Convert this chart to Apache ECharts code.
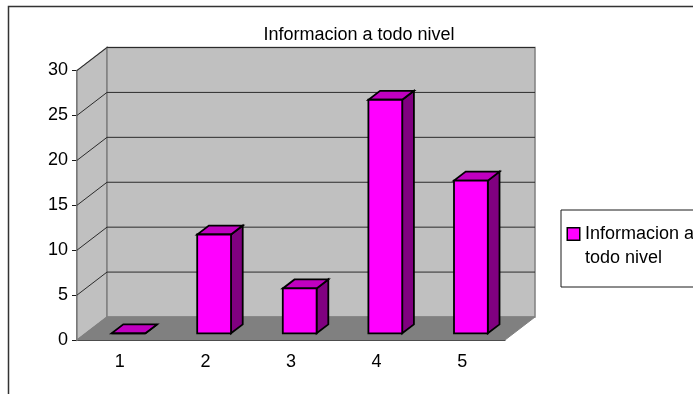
<!DOCTYPE html>
<html>
<head>
<meta charset="utf-8">
<style>html,body{margin:0;padding:0;background:#fff}#chart{width:693px;height:394px}</style>
<script src="https://cdn.jsdelivr.net/npm/echarts@6/dist/echarts.min.js"></script>
</head>
<body>
<div id="chart"></div>
<script>
const titleText = 'Informacion a todo nivel';
const categories = ['1', '2', '3', '4', '5'];
const values = [0, 11, 5, 26, 17];
const yTicks = [5, 10, 15, 20, 25, 30];

// Oblique projection of the 3D box: shift of the back plane relative to the front.
const DEPTH_X = 30, DEPTH_Y = -23;
const BAR_NEAR = 0.29, BAR_FAR = 0.68, BAR_WIDTH = 0.395;
const FONT = '"Liberation Sans", Arial, sans-serif';

const chart = echarts.init(document.getElementById('chart'), null, { renderer: 'canvas' });

const poly = (points, fill, stroke, lineWidth) => ({
  type: 'polygon',
  shape: { points },
  style: { fill, stroke, lineWidth }
});

function renderWalls(params, api) {
  const g = params.coordSys;
  const l = g.x, r = g.x + g.width, t = g.y, b = g.y + g.height;
  const dx = DEPTH_X, dy = DEPTH_Y;
  return {
    type: 'group',
    children: [
      poly([[l, b], [l + dx, b + dy], [l + dx, t + dy], [l, t]], '#c0c0c0', '#808080', 1.5),
      poly([[l + dx, t + dy], [r + dx, t + dy], [r + dx, b + dy], [l + dx, b + dy]], '#c0c0c0', '#808080', 1.5),
      poly([[l, b], [r, b], [r + dx, b + dy], [l + dx, b + dy]], '#808080', '#808080', 1)
    ]
  };
}

function renderGridLine(params, api) {
  const g = params.coordSys;
  const y = api.coord([0, api.value(0)])[1];
  const l = g.x, r = g.x + g.width;
  return {
    type: 'polyline',
    shape: { points: [[l, y], [l + DEPTH_X, y + DEPTH_Y], [r + DEPTH_X, y + DEPTH_Y]] },
    style: { fill: 'none', stroke: '#2b2b2b', lineWidth: 1 }
  };
}

function renderBar(params, api) {
  const top = api.coord([api.value(0), api.value(1)]);
  const base = api.coord([api.value(0), 0]);
  const band = api.size([1, 0])[0];
  const w = band * BAR_WIDTH;
  const fx = BAR_NEAR * DEPTH_X, fy = BAR_NEAR * DEPTH_Y;
  const bx = (BAR_FAR - BAR_NEAR) * DEPTH_X, by = (BAR_FAR - BAR_NEAR) * DEPTH_Y;
  const x0 = base[0] - w / 2 + fx, x1 = x0 + w;
  const yt = top[1] + fy, yb = base[1] + fy;
  const edge = '#000';
  return {
    type: 'group',
    children: [
      poly([[x1, yb], [x1 + bx, yb + by], [x1 + bx, yt + by], [x1, yt]], '#800080', edge, 1.8),
      poly([[x0, yt], [x1, yt], [x1 + bx, yt + by], [x0 + bx, yt + by]], '#c000c0', edge, 1.8),
      poly([[x0, yb], [x1, yb], [x1, yt], [x0, yt]], '#ff00ff', edge, 1.8)
    ]
  };
}

chart.setOption({
  animation: false,
  backgroundColor: '#fff',
  title: {
    text: titleText,
    left: 354,
    top: 21,
    textAlign: 'center',
    textStyle: { fontFamily: FONT, fontSize: 18, fontWeight: 'normal', color: '#000' }
  },
  grid: { left: 77, right: 188, top: 70.5, bottom: 54 },
  xAxis: {
    type: 'category',
    data: categories,
    boundaryGap: true,
    axisLine: { lineStyle: { color: '#1a1a1a', width: 1 } },
    axisTick: { alignWithLabel: false, length: 5, lineStyle: { color: '#1a1a1a' } },
    axisLabel: { margin: 13, fontFamily: FONT, fontSize: 18, color: '#000' },
    splitLine: { show: false }
  },
  yAxis: {
    type: 'value',
    min: 0,
    max: 30,
    interval: 5,
    axisLine: { show: true, lineStyle: { color: '#333', width: 1.5 } },
    axisTick: { show: true, length: 5, lineStyle: { color: '#1a1a1a' } },
    axisLabel: { margin: 9, fontFamily: FONT, fontSize: 18, color: '#000', padding: [2, 0, 0, 0] },
    splitLine: { show: false }
  },
  legend: {
    left: 561,
    top: 210,
    orient: 'vertical',
    padding: [15, 20, 20, 2],
    backgroundColor: '#fff',
    borderColor: '#1a1a1a',
    borderWidth: 1,
    itemWidth: 0,
    itemHeight: 0,
    selectedMode: false,
    data: [{ name: titleText, icon: 'none' }],
    formatter: () => '{sw|}{t|Informacion a}\n{gap|}{t|todo nivel}',
    textStyle: {
      rich: {
        sw: { width: 11, height: 11, backgroundColor: '#ff00ff', borderColor: '#000', borderWidth: 1.5, align: 'left' },
        gap: { width: 11, height: 11 },
        t: { fontFamily: FONT, fontSize: 18, color: '#000', lineHeight: 24, padding: [0, 0, 0, 6] }
      }
    }
  },
  series: [
    { type: 'custom', data: [[0]], renderItem: renderWalls, z: 1, silent: true, encode: { x: -1, y: -1 } },
    { type: 'custom', data: yTicks.map(v => [v]), renderItem: renderGridLine, z: 2, silent: true, encode: { x: -1, y: 0 } },
    {
      name: titleText,
      type: 'custom',
      data: values.map((v, i) => [i, v]),
      renderItem: renderBar,
      z: 3,
      encode: { x: 0, y: 1 },
      itemStyle: { color: '#ff00ff' }
    }
  ],
  graphic: [{
    type: 'polyline',
    silent: true,
    shape: { points: [[8.5, 394], [8.5, 6.5], [693, 6.5]] },
    style: { fill: 'none', stroke: '#333', lineWidth: 1.5 }
  }]
});
</script>
</body>
</html>
